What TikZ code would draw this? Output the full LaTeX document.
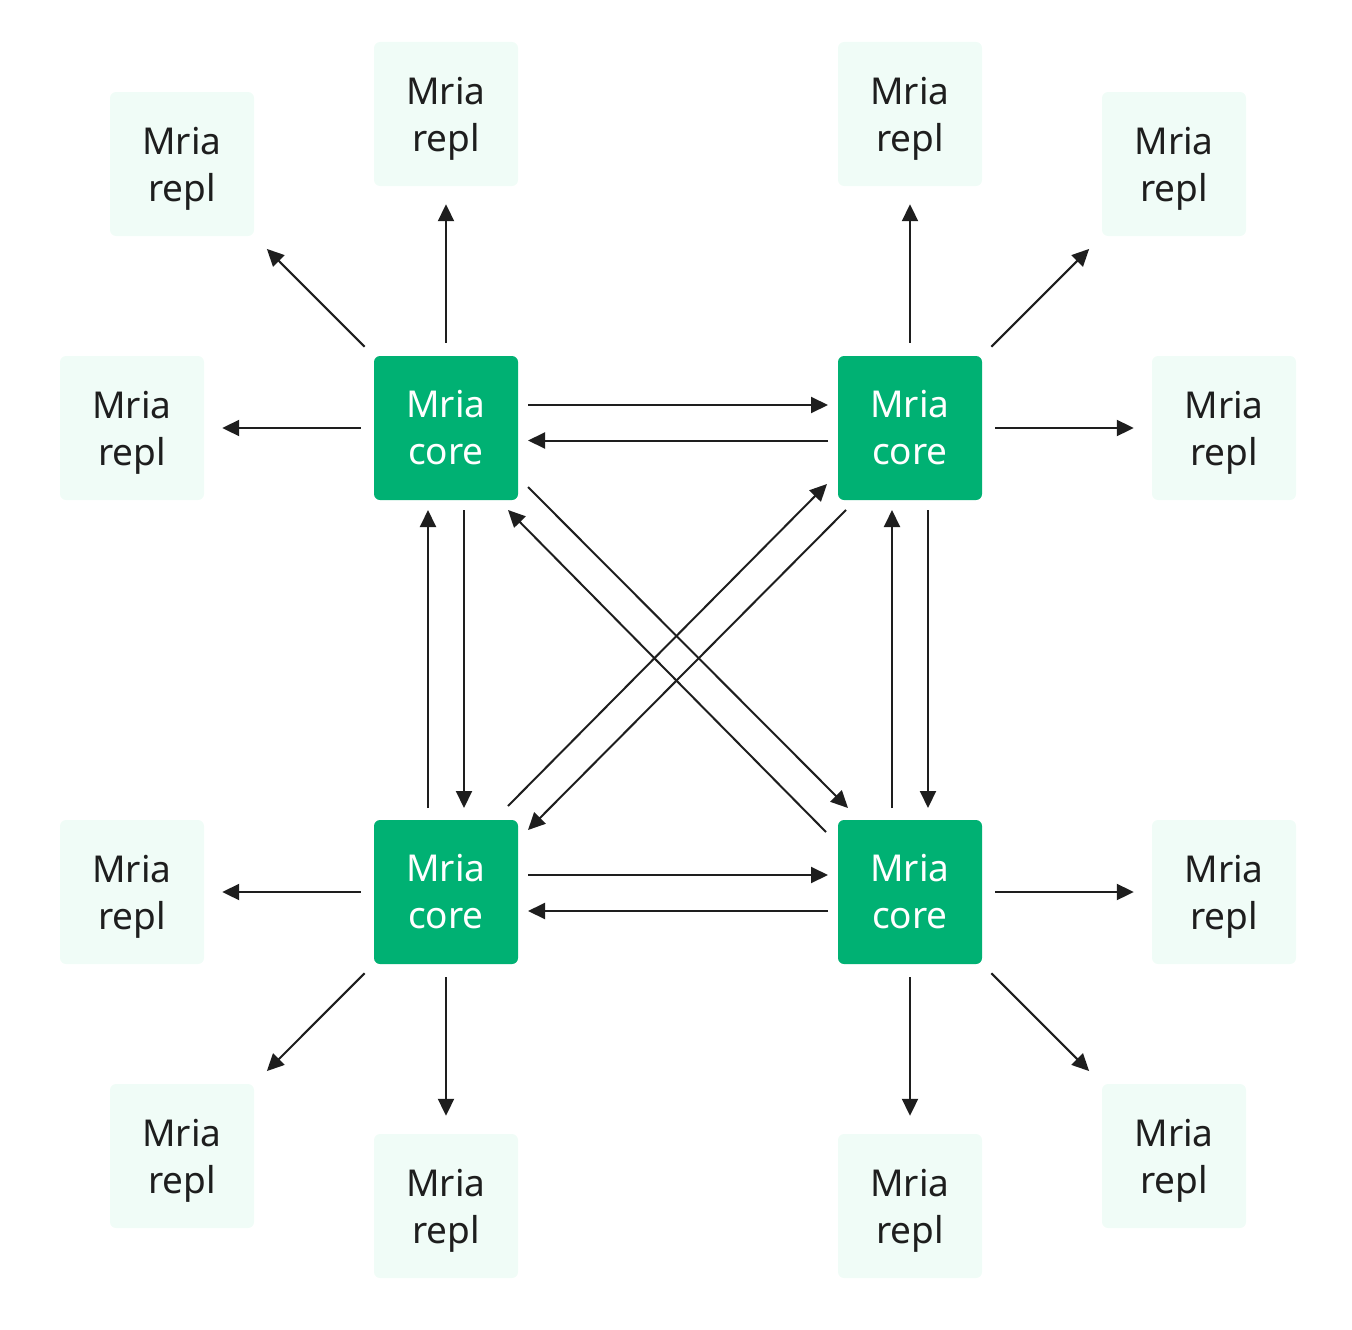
\documentclass[tikz,border=0pt]{standalone}
\usepackage{fontspec}
\setmainfont{Noto Sans}
\usetikzlibrary{arrows.meta,calc}
\definecolor{coregreen}{HTML}{00B173}
\definecolor{repllight}{HTML}{F0FCF7}
\definecolor{inkdark}{HTML}{1E1E1E}
\newcommand\nodescend[1]{\raisebox{0pt}[\height][0pt]{#1}}
\tikzset{
  box/.style={minimum width=144pt, minimum height=144pt, inner sep=0pt, rounded corners=6pt,
    align=center, font=\fontsize{37}{47}\selectfont},
  corebox/.style={box, fill=coregreen, text=white},
  replbox/.style={box, fill=repllight, text=inkdark},
  arr/.style={draw=inkdark, line width=2pt, -{Triangle[length=17pt,width=16pt]}},
  radial/.style={arr, shorten <=13pt, shorten >=18pt},
}
\begin{document}
\begin{tikzpicture}[x=1pt,y=-1pt]
\useasboundingbox (0,0) rectangle (1352,1330);
% core nodes
\node[corebox] (c1) at (446,428) {Mria\\core};
\node[corebox] (c2) at (910,428) {Mria\\core};
\node[corebox] (c3) at (446,892) {Mria\\core};
\node[corebox] (c4) at (910,892) {Mria\\core};
% replicant nodes
\node[replbox] (r1t) at (446,114) {Mria\\\nodescend{repl}};
\node[replbox] (r1d) at (182,164) {Mria\\\nodescend{repl}};
\node[replbox] (r1l) at (132,428) {Mria\\\nodescend{repl}};
\node[replbox] (r2t) at (910,114) {Mria\\\nodescend{repl}};
\node[replbox] (r2d) at (1174,164) {Mria\\\nodescend{repl}};
\node[replbox] (r2r) at (1224,428) {Mria\\\nodescend{repl}};
\node[replbox] (r3l) at (132,892) {Mria\\\nodescend{repl}};
\node[replbox] (r3d) at (182,1156) {Mria\\\nodescend{repl}};
\node[replbox] (r3b) at (446,1206) {Mria\\\nodescend{repl}};
\node[replbox] (r4r) at (1224,892) {Mria\\\nodescend{repl}};
\node[replbox] (r4d) at (1174,1156) {Mria\\\nodescend{repl}};
\node[replbox] (r4b) at (910,1206) {Mria\\\nodescend{repl}};
% radial arrows
\foreach \c/\r in {c1/r1t,c1/r1d,c1/r1l,c2/r2t,c2/r2d,c2/r2r,c3/r3l,c3/r3d,c3/r3b,c4/r4r,c4/r4d,c4/r4b}
  \draw[radial] (\c) -- (\r);
% horizontal pairs
\draw[arr] ($(c1)+(82,-23)$) -- ($(c2)+(-82,-23)$);
\draw[arr] ($(c2)+(-82,12.5)$) -- ($(c1)+(82,12.5)$);
\draw[arr] ($(c3)+(82,-17)$) -- ($(c4)+(-82,-17)$);
\draw[arr] ($(c4)+(-82,19)$) -- ($(c3)+(82,19)$);
% vertical pairs
\draw[arr] ($(c1)+(18,82)$) -- ($(c3)+(18,-84)$);
\draw[arr] ($(c3)+(-18,-84)$) -- ($(c1)+(-18,82)$);
\draw[arr] ($(c2)+(18,82)$) -- ($(c4)+(18,-84)$);
\draw[arr] ($(c4)+(-18,-84)$) -- ($(c2)+(-18,82)$);
% diagonals
\draw[arr] ($(c1)+(82,59)$) -- ($(c4)+(-62,-84)$);
\draw[arr] ($(c4)+(-84,-60)$) -- ($(c1)+(62,82)$);
\draw[arr] ($(c3)+(62,-86)$) -- ($(c2)+(-83,56)$);
\draw[arr] ($(c2)+(-64,82)$) -- ($(c3)+(82,-62)$);
\end{tikzpicture}
\end{document}
